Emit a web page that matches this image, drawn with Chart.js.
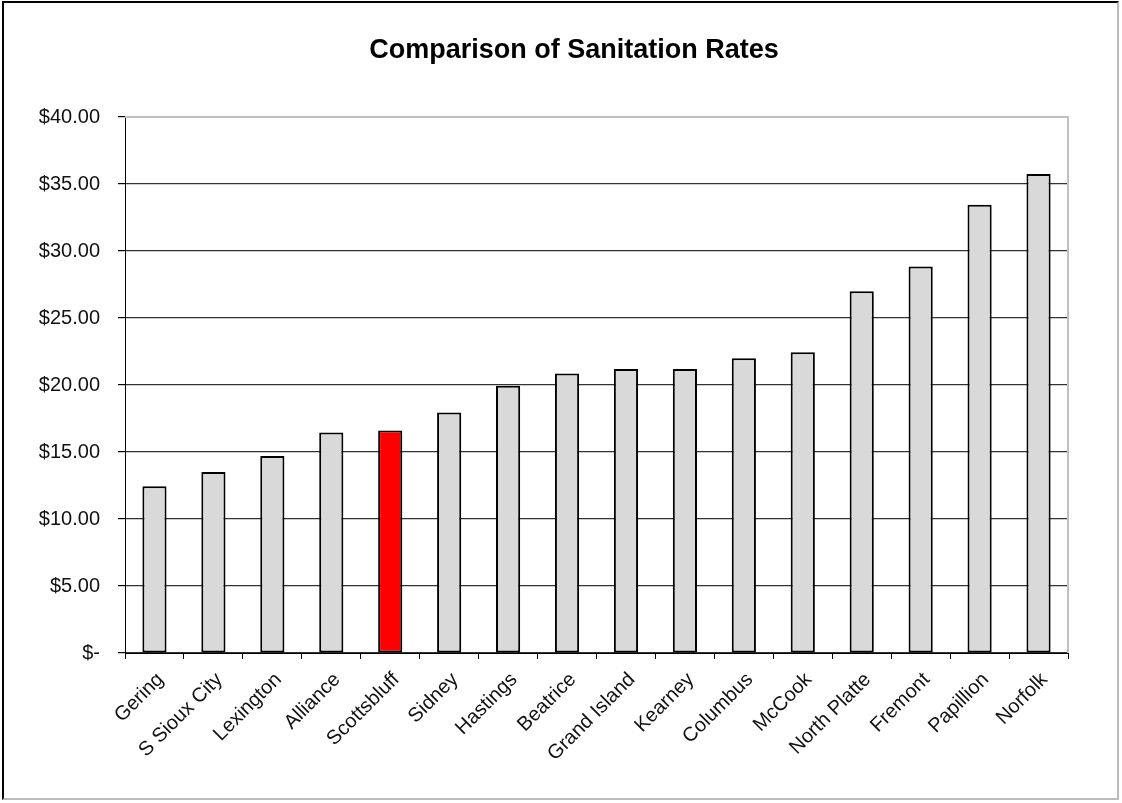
<!DOCTYPE html>
<html>
<head>
<meta charset="utf-8">
<title>Comparison of Sanitation Rates</title>
<script src="https://cdn.jsdelivr.net/npm/chart.js@4"></script>
<style>
  html, body { margin: 0; padding: 0; background: #fff; }
  #wrap {
    position: absolute; left: 0; top: 0; width: 1122px; height: 803px;
  }
  #frame {
    position: absolute; left: 2px; top: 1px; width: 1117px; height: 799px;
    border-top: 2px solid #000; border-left: 2px solid #000;
    border-right: 2px solid #bbb; border-bottom: 2px solid #bbb;
    box-sizing: border-box; pointer-events: none;
  }
</style>
</head>
<body>
<div id="wrap">
  <canvas id="rateChart" width="1122" height="803"></canvas>
  <div id="frame"></div>
</div>
<script>
var chartTitle = 'Comparison of Sanitation Rates';
var cities = ['Gering', 'S Sioux City', 'Lexington', 'Alliance', 'Scottsbluff', 'Sidney',
  'Hastings', 'Beatrice', 'Grand Island', 'Kearney', 'Columbus', 'McCook',
  'North Platte', 'Fremont', 'Papillion', 'Norfolk'];
var rates = [12.45, 13.50, 14.70, 16.45, 16.60, 17.95, 19.95, 20.85,
  21.20, 21.20, 22.00, 22.45, 27.00, 28.85, 33.45, 35.75];
var highlightCity = 'Scottsbluff';

var fills = cities.map(function(c) {
  return c === highlightCity ? '#ff0000' : '#d9d9d9';
});

var labelFont = 'Liberation Sans, Arial, sans-serif';

// light grey border along the top and right of the plot area
var plotBorder = {
  id: 'plotBorder',
  afterDatasetsDraw: function(chart) {
    var a = chart.chartArea, ctx = chart.ctx;
    ctx.save();
    ctx.strokeStyle = '#c0c0c0';
    ctx.lineWidth = 2;
    ctx.beginPath();
    ctx.moveTo(a.left, a.top);
    ctx.lineTo(a.right, a.top);
    ctx.lineTo(a.right, a.bottom);
    ctx.stroke();
    ctx.restore();
  }
};

// heading centred over the whole page rather than the plot box
var pageTitle = {
  id: 'pageTitle',
  afterDraw: function(chart) {
    var ctx = chart.ctx;
    ctx.save();
    ctx.fillStyle = '#000';
    ctx.font = 'bold 27px ' + labelFont;
    ctx.textAlign = 'center';
    ctx.textBaseline = 'middle';
    ctx.fillText(chartTitle, 574, 51);
    ctx.restore();
  }
};

var ctx = document.getElementById('rateChart');
var rateChart = new Chart(ctx, {
  type: 'bar',
  data: {
    labels: cities,
    datasets: [{
      label: 'Rate',
      data: rates,
      backgroundColor: fills,
      borderColor: '#000',
      borderWidth: 2,
      borderSkipped: false,
      barPercentage: 0.41,
      categoryPercentage: 1.0
    }]
  },
  options: {
    responsive: false,
    animation: false,
    layout: { padding: { left: 0, right: 54, top: 117, bottom: 0 } },
    plugins: {
      legend: { display: false },
      tooltip: { enabled: false },
      title: { display: false }
    },
    scales: {
      x: {
        afterFit: function(scale) { scale.height = 150; },
        border: { color: '#000', width: 1 },
        grid: {
          offset: true,
          drawOnChartArea: false,
          color: '#000',
          tickLength: 6
        },
        ticks: {
          color: '#111',
          minRotation: 45,
          maxRotation: 45,
          autoSkip: false,
          padding: 9,
          labelOffset: 6,
          font: { family: labelFont, size: 20 }
        }
      },
      y: {
        min: 0,
        max: 40,
        afterFit: function(scale) { scale.width = 125; },
        border: { color: '#000', width: 1 },
        grid: {
          color: function(c) { return c.tick && c.tick.value === 40 ? '#c0c0c0' : '#333'; },
          lineWidth: 1.2,
          tickColor: '#000',
          tickLength: 7
        },
        ticks: {
          stepSize: 5,
          color: '#111',
          padding: 18,
          font: { family: labelFont, size: 20 },
          callback: function(v) { return v === 0 ? '$-' : '$' + v.toFixed(2); }
        }
      }
    }
  },
  plugins: [plotBorder, pageTitle]
});
</script>
</body>
</html>
